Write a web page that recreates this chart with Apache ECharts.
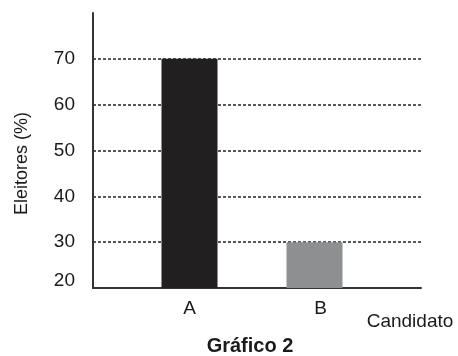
<!DOCTYPE html>
<html>
<head>
<meta charset="utf-8">
<script src="https://cdn.jsdelivr.net/npm/echarts@6/dist/echarts.min.js"></script>
<style>
html,body{margin:0;padding:0;background:#fff;}
#c{width:458px;height:356px;}
</style>
</head>
<body>
<div id="c"></div>
<script>
var categories = ['A', 'B'];
var values = [70, 30];
var barColors = ['#221f20', '#8e8f91'];
var yTicks = [20, 30, 40, 50, 60, 70, 80];
var yTitle = 'Eleitores (%)';
var xTitle = 'Candidato';
var chartTitle = 'Gráfico 2';

var FONT = 'Liberation Sans, Arial, sans-serif';
var chart = echarts.init(document.getElementById('c'), null, {renderer: 'canvas'});

var catIdx = categories.map(function (c, i) { return i; });

var option = {
  animation: false,
  backgroundColor: '#ffffff',
  title: [
    {text: chartTitle, left: 250, top: 336, textAlign: 'center', padding: 0,
     textStyle: {fontFamily: FONT, fontSize: 20, fontWeight: 'bold', color: '#1a1a1a'}},
    {text: xTitle, left: 410, top: 312, textAlign: 'center', padding: 0,
     textStyle: {fontFamily: FONT, fontSize: 19, fontWeight: 'normal', color: '#1a1a1a'}}
  ],
  grid: {left: 93, right: 37, top: 13, bottom: 68, containLabel: false},
  xAxis: {
    type: 'value',
    min: -0.772,
    max: 1.852,
    axisLine: {show: true, onZero: false, lineStyle: {color: '#333', width: 2}},
    axisTick: {show: false},
    splitLine: {show: false},
    axisLabel: {
      customValues: catIdx,
      margin: 11,
      fontFamily: FONT, fontSize: 19, color: '#1a1a1a',
      formatter: function (v) {
        var i = Math.round(v);
        var s = categories[i] || '';
        return i === 1 ? '{b|' + s + '}' : s;
      },
      rich: {b: {fontFamily: FONT, fontSize: 19, color: '#1a1a1a', padding: [0, 0, 0, 12]}}
    }
  },
  yAxis: {
    type: 'value',
    min: yTicks[0],
    max: yTicks[yTicks.length - 1],
    interval: 10,
    name: yTitle,
    nameLocation: 'middle',
    nameRotate: 90,
    nameGap: 62,
    nameTextStyle: {fontFamily: FONT, fontSize: 18, color: '#1a1a1a', padding: [0, 26, 0, 0]},
    axisLine: {show: true, onZero: false, lineStyle: {color: '#333', width: 2}},
    axisTick: {show: false},
    splitLine: {
      show: true,
      lineStyle: {
        color: ['transparent', '#222', '#222', '#222', '#222', '#222', 'transparent'],
        type: [3, 2], width: 1.6
      }
    },
    axisLabel: {
      margin: 18,
      fontFamily: FONT, fontSize: 19, color: '#1a1a1a',
      formatter: function (v) {
        if (v === yTicks[yTicks.length - 1]) return '';
        if (v === yTicks[0]) return '{m|' + v + '}';
        return String(v);
      },
      rich: {m: {fontFamily: FONT, fontSize: 19, color: '#1a1a1a', padding: [0, 0, 14, 0]}}
    }
  },
  series: [{
    type: 'bar',
    barWidth: 56,
    data: values.map(function (v, i) {
      return {value: [i, v], itemStyle: {color: barColors[i]}};
    })
  }]
};
chart.setOption(option);
</script>
</body>
</html>
